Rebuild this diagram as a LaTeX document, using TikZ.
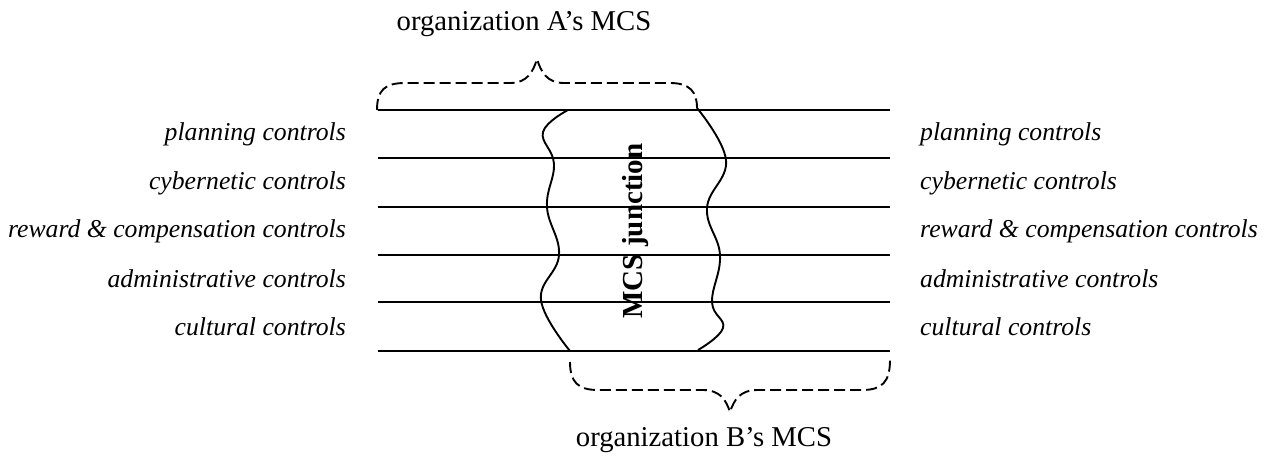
\documentclass[tikz,border=0pt]{standalone}
\usepackage{fontspec}
\setmainfont{Liberation Serif}
\begin{document}
\begin{tikzpicture}[x=1pt,y=-1pt,
  ctrl/.style={font=\fontsize{25.7}{30}\selectfont\itshape, inner sep=0pt},
  org/.style={font=\fontsize{28.7}{33}\selectfont, inner sep=0pt},
  layer/.style={line width=2pt},
  wave/.style={line width=1.9pt},
  bracket/.style={line width=1.9pt, dash pattern=on 11pt off 5pt}]
\useasboundingbox (0,0) rectangle (1271,464);

% layer boundaries
\foreach \i/\y in {1/110,2/158,3/207,4/255,5/302,6/351}{
  \coordinate (L\i) at (378,\y);
  \coordinate (R\i) at (890,\y);
  \draw[layer] (L\i) -- (R\i);
}

% control labels on both sides
\foreach \i/\y/\t in {1/134/planning controls,
                      2/183/cybernetic controls,
                      3/231/reward \& compensation controls,
                      4/279/administrative controls,
                      5/327/cultural controls}{
  \node[ctrl, anchor=east] (la\i) at (346,\y) {\t};
  \node[ctrl, anchor=west] (ra\i) at (920,\y) {\t};
}

% junction boundaries
\draw[wave] plot[smooth, tension=0.7] coordinates
  {(568,110) (543,132) (554,164) (547,207) (559,255) (541,300) (570,351)};
\draw[wave] plot[smooth, tension=0.7] coordinates
  {(697,108) (726,160) (707,208) (720,255) (712,302) (723,328) (698,350)};

\node[font=\fontsize{29}{34}\selectfont\bfseries, rotate=90, inner sep=0pt]
  (junc) at (636,231) {MCS junction};

% braces marking each organization's extent
\draw[bracket] (377,110) .. controls (377,90) and (385,83) .. (405,83)
  -- (510,83) .. controls (527,83) and (533,72) .. (537,59)
  .. controls (541,72) and (547,83) .. (564,83)
  -- (670,83) .. controls (690,83) and (697,92) .. (697,108);
\draw[bracket] (570,362) .. controls (570,382) and (578,390) .. (598,390)
  -- (703,390) .. controls (720,390) and (726,400) .. (730,412)
  .. controls (734,400) and (740,390) .. (757,390)
  -- (862,390) .. controls (882,390) and (890,382) .. (890,360);

\node[org] (orgA) at (524,24) {organization A’s MCS};
\node[org] (orgB) at (704,440) {organization B’s MCS};
\end{tikzpicture}
\end{document}
